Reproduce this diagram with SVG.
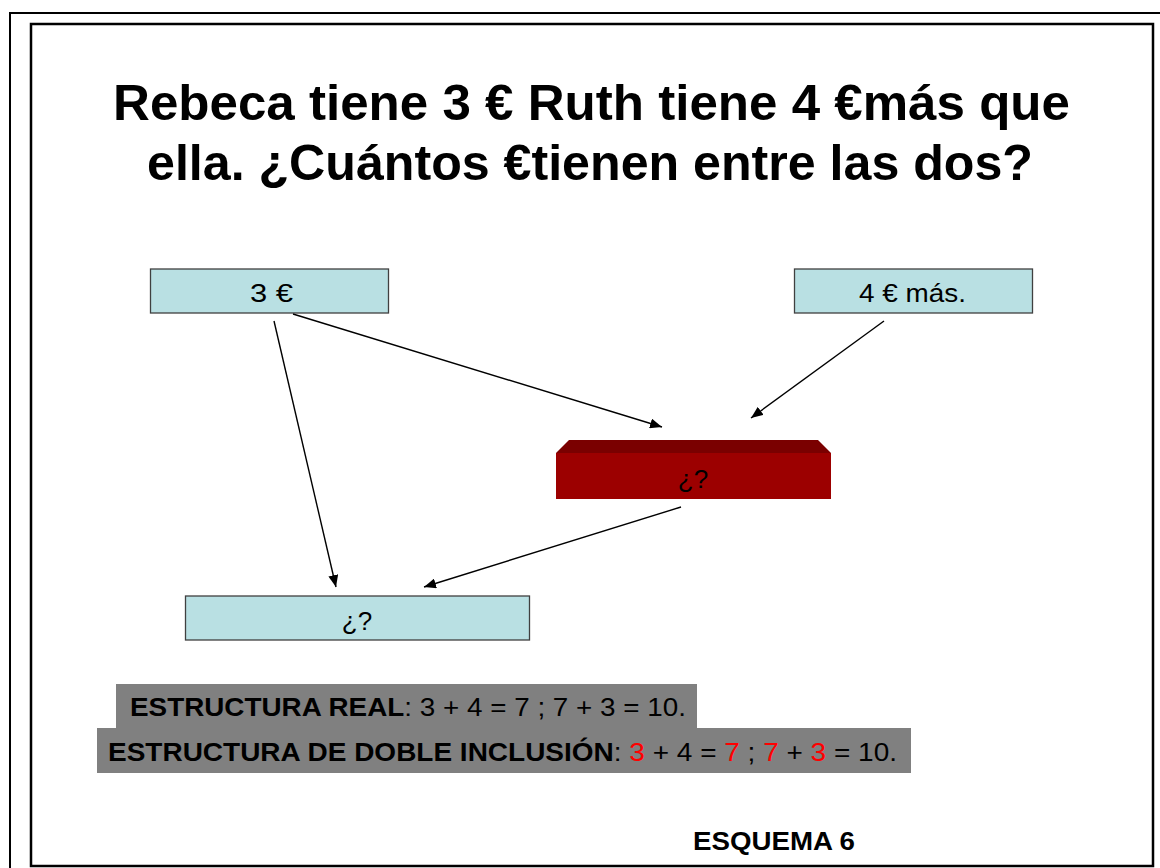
<svg xmlns="http://www.w3.org/2000/svg" width="1160" height="868" viewBox="0 0 1160 868">
<style>
.t{font-family:"Liberation Sans",Arial,sans-serif;fill:#000}
.title{font-size:50px;font-weight:bold}
.lbl{font-size:26px}
.box{fill:#B9E0E3;stroke:#404040;stroke-width:1.3}
.eq{font-size:25px}
.red{fill:#FF0000}
.conn line{stroke:#000;stroke-width:1.4;marker-end:url(#ah)}
</style>
<defs>
<marker id="ah" viewBox="0 0 12 10" refX="12" refY="5" markerWidth="12" markerHeight="10" markerUnits="userSpaceOnUse" orient="auto">
<path d="M0,0 L12,5 L0,10 Z" fill="#000"/>
</marker>
</defs>
<rect width="1160" height="868" fill="#fff"/>
<path d="M10,868 V13 H1160" fill="none" stroke="#000" stroke-width="2"/>
<rect x="31" y="24" width="1122" height="842" fill="none" stroke="#000" stroke-width="2.5"/>
<g id="title">
<text class="t title" x="113" y="120" textLength="957" lengthAdjust="spacingAndGlyphs">Rebeca tiene 3 € Ruth tiene 4 €más que</text>
<text class="t title" x="147" y="180" textLength="886" lengthAdjust="spacingAndGlyphs">ella. ¿Cuántos €tienen entre las dos?</text>
</g>
<g id="node-3e">
<rect class="box" x="150.5" y="269" width="238" height="44"/>
<text class="t lbl" x="250" y="302" textLength="43" lengthAdjust="spacingAndGlyphs">3 €</text>
</g>
<g id="node-4e">
<rect class="box" x="794.5" y="269" width="238" height="44"/>
<text class="t lbl" x="859" y="302" textLength="107" lengthAdjust="spacingAndGlyphs">4 € más.</text>
</g>
<g id="node-red">
<polygon points="556,453 569,440 818,440 831,453" fill="#7A0000"/>
<rect x="556" y="453" width="275" height="46" fill="#9C0000"/>
<text class="t lbl" x="693" y="488" text-anchor="middle">¿?</text>
</g>
<g id="node-result">
<rect class="box" x="185.5" y="596" width="344" height="44"/>
<text class="t lbl" x="357" y="630" text-anchor="middle">¿?</text>
</g>
<g class="conn" id="connectors">
<line x1="293" y1="314" x2="662" y2="427"/>
<line x1="884" y1="321" x2="751" y2="418"/>
<line x1="274" y1="321" x2="336" y2="587"/>
<line x1="681" y1="507" x2="424" y2="587"/>
</g>
<g id="eq-real">
<rect x="116" y="684" width="581" height="44" fill="#808080"/>
<text class="t eq" x="130" y="716" textLength="556" lengthAdjust="spacingAndGlyphs"><tspan font-weight="bold">ESTRUCTURA REAL</tspan>: 3 + 4 = 7 ; 7 + 3 = 10.</text>
</g>
<g id="eq-doble">
<rect x="97" y="728" width="814" height="45" fill="#808080"/>
<text class="t eq" x="108" y="761" textLength="789" lengthAdjust="spacingAndGlyphs"><tspan font-weight="bold">ESTRUCTURA DE DOBLE INCLUSIÓN</tspan>: <tspan class="red">3</tspan> + 4 = <tspan class="red">7</tspan> ; <tspan class="red">7</tspan> + <tspan class="red">3</tspan> = 10.</text>
</g>
<g id="footer">
<text class="t" x="693" y="850" font-size="25" font-weight="bold" textLength="162" lengthAdjust="spacingAndGlyphs">ESQUEMA 6</text>
</g>
</svg>
